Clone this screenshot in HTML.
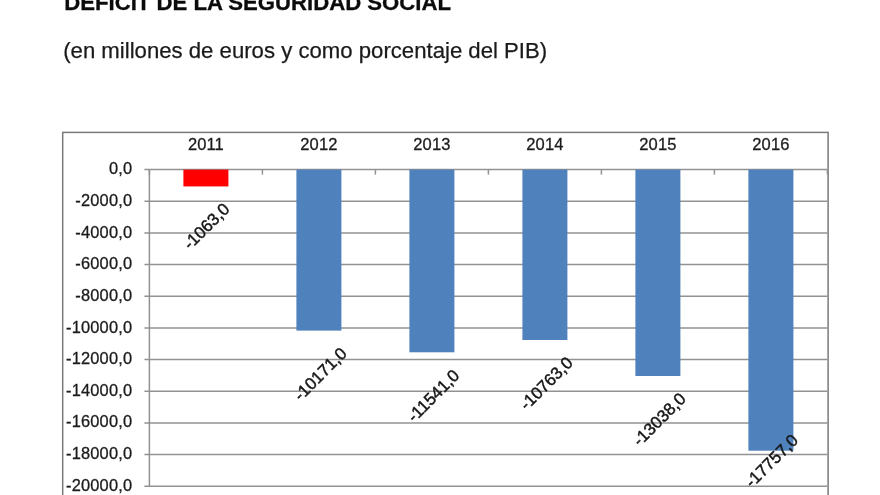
<!DOCTYPE html>
<html lang="es"><head><meta charset="utf-8"><title>Déficit de la Seguridad Social</title>
<style>
html,body{margin:0;padding:0;background:#fff;}
body{width:880px;height:495px;overflow:hidden;position:relative;font-family:"Liberation Sans",Arial,sans-serif;}
svg{position:absolute;left:0;top:0;display:block;}
text{font-family:"Liberation Sans",Arial,sans-serif;}
.t1{font-weight:bold;font-size:22.15px;fill:#0b0b0b;stroke:#0b0b0b;stroke-width:0.3;}
.t2{font-size:22.17px;fill:#1a1a1a;stroke:#1a1a1a;stroke-width:0.25;}
.ax{font-size:16.4px;letter-spacing:0.2px;fill:#1c1c1c;stroke:#1c1c1c;stroke-width:0.3;}
.yr{font-size:16.5px;letter-spacing:0.1px;fill:#1c1c1c;stroke:#1c1c1c;stroke-width:0.3;}
.dl{font-size:16.9px;fill:#161616;stroke:#161616;stroke-width:0.45;}
.g{stroke:#929292;stroke-width:1.5;fill:none;}
</style></head><body>
<svg width="880" height="495" viewBox="0 0 880 495">
<rect width="880" height="495" fill="#fff"/>
<text class="t1" x="64.3" y="10">DÉFICIT DE LA SEGURIDAD SOCIAL</text>
<text class="t2" x="63.2" y="58">(en millones de euros y como porcentaje del PIB)</text>
<rect x="62.7" y="132.4" width="765.4" height="400" fill="#fff" stroke="#7a7a7a" stroke-width="1.5"/>

<line class="g" x1="144.4" y1="169.60" x2="827.4" y2="169.60"/>
<line class="g" x1="144.4" y1="201.26" x2="827.4" y2="201.26"/>
<line class="g" x1="144.4" y1="232.92" x2="827.4" y2="232.92"/>
<line class="g" x1="144.4" y1="264.58" x2="827.4" y2="264.58"/>
<line class="g" x1="144.4" y1="296.24" x2="827.4" y2="296.24"/>
<line class="g" x1="144.4" y1="327.90" x2="827.4" y2="327.90"/>
<line class="g" x1="144.4" y1="359.56" x2="827.4" y2="359.56"/>
<line class="g" x1="144.4" y1="391.22" x2="827.4" y2="391.22"/>
<line class="g" x1="144.4" y1="422.88" x2="827.4" y2="422.88"/>
<line class="g" x1="144.4" y1="454.54" x2="827.4" y2="454.54"/>
<line class="g" x1="144.4" y1="486.20" x2="827.4" y2="486.20"/>
<line class="g" x1="149.4" y1="169.60" x2="149.4" y2="486.20"/>
<line class="g" x1="149.4" y1="169.60" x2="149.4" y2="174.60"/>
<line class="g" x1="262.4" y1="169.60" x2="262.4" y2="174.60"/>
<line class="g" x1="375.4" y1="169.60" x2="375.4" y2="174.60"/>
<line class="g" x1="488.4" y1="169.60" x2="488.4" y2="174.60"/>
<line class="g" x1="601.4" y1="169.60" x2="601.4" y2="174.60"/>
<line class="g" x1="714.4" y1="169.60" x2="714.4" y2="174.60"/>
<line class="g" x1="827.4" y1="169.60" x2="827.4" y2="174.60"/>
<rect x="183.4" y="169.60" width="45.0" height="16.83" fill="#ff0000"/>
<rect x="296.4" y="169.60" width="45.0" height="161.01" fill="#4f81bd"/>
<rect x="409.4" y="169.60" width="45.0" height="182.69" fill="#4f81bd"/>
<rect x="522.4" y="169.60" width="45.0" height="170.38" fill="#4f81bd"/>
<rect x="635.4" y="169.60" width="45.0" height="206.39" fill="#4f81bd"/>
<rect x="748.4" y="169.60" width="45.0" height="281.09" fill="#4f81bd"/>
<text class="ax" text-anchor="end" x="132.3" y="174.20">0,0</text>
<text class="ax" text-anchor="end" x="132.3" y="205.86">-2000,0</text>
<text class="ax" text-anchor="end" x="132.3" y="237.52">-4000,0</text>
<text class="ax" text-anchor="end" x="132.3" y="269.18">-6000,0</text>
<text class="ax" text-anchor="end" x="132.3" y="300.84">-8000,0</text>
<text class="ax" text-anchor="end" x="132.3" y="332.50">-10000,0</text>
<text class="ax" text-anchor="end" x="132.3" y="364.16">-12000,0</text>
<text class="ax" text-anchor="end" x="132.3" y="395.82">-14000,0</text>
<text class="ax" text-anchor="end" x="132.3" y="427.48">-16000,0</text>
<text class="ax" text-anchor="end" x="132.3" y="459.14">-18000,0</text>
<text class="ax" text-anchor="end" x="132.3" y="490.80">-20000,0</text>
<text class="yr" text-anchor="middle" x="205.9" y="149.5">2011</text>
<text class="yr" text-anchor="middle" x="318.9" y="149.5">2012</text>
<text class="yr" text-anchor="middle" x="431.9" y="149.5">2013</text>
<text class="yr" text-anchor="middle" x="544.9" y="149.5">2014</text>
<text class="yr" text-anchor="middle" x="657.9" y="149.5">2015</text>
<text class="yr" text-anchor="middle" x="770.9" y="149.5">2016</text>
<text class="dl" text-anchor="middle" transform="translate(206.5 226.4) rotate(-45)" x="0" y="5.5">-1063,0</text>
<text class="dl" text-anchor="middle" transform="translate(320.5 374.2) rotate(-45)" x="0" y="5.5">-10171,0</text>
<text class="dl" text-anchor="middle" transform="translate(433.5 395.9) rotate(-45)" x="0" y="5.5">-11541,0</text>
<text class="dl" text-anchor="middle" transform="translate(546.5 383.6) rotate(-45)" x="0" y="5.5">-10763,0</text>
<text class="dl" text-anchor="middle" transform="translate(659.5 419.6) rotate(-45)" x="0" y="5.5">-13038,0</text>
<text class="dl" text-anchor="middle" transform="translate(771.8 461.1) rotate(-45)" x="0" y="5.5">-17757,0</text>
</svg>
</body></html>
